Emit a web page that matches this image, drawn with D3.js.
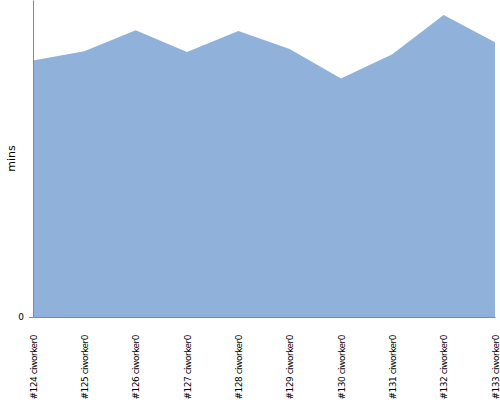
<!DOCTYPE html>
<html>
<head>
<meta charset="utf-8">
<script src="https://cdn.jsdelivr.net/npm/d3@7"></script>
<style>
  body { margin: 0; background: #fff; }
  .eje text { font-family: "DejaVu Sans", sans-serif; font-size: 9px; fill: #000; }
  .eje path, .eje line { stroke: #888; }
</style>
</head>
<body>
<script>
// builds y sus duraciones (minutos)
var builds = ["#124 ciworker0", "#125 ciworker0", "#126 ciworker0", "#127 ciworker0", "#128 ciworker0",
              "#129 ciworker0", "#130 ciworker0", "#131 ciworker0", "#132 ciworker0", "#133 ciworker0"];
var minutos = [17.0, 17.6, 19.0, 17.55, 18.95, 17.75, 15.8, 17.4, 20.0, 18.2];
var ticksY = [0];

var w = 500, h = 400;
var margin = { top: 0, bottom: 83, left: 33, right: 5 };

var svg = d3.select("body").append("svg")
            .attr("width", w).attr("height", h);

var x = d3.scalePoint()
          .domain(builds)
          .range([margin.left, w - margin.right]);

var y = d3.scaleLinear()
          .domain([0, d3.max(minutos) * 1.05])
          .range([h - margin.bottom, margin.top]);

var area = d3.area()
             .x(function (d, i) { return x(builds[i]); })
             .y0(y(0))
             .y1(function (d) { return y(d); });

svg.append("path")
   .datum(minutos)
   .attr("d", area)
   .attr("fill", "#8fb1da");

// eje Y
svg.append("g")
   .attr("class", "eje")
   .attr("transform", "translate(" + margin.left + ",0)")
   .call(d3.axisLeft(y).tickValues(ticksY).tickSize(4).tickSizeOuter(0))
   .selectAll("text").attr("dx", "-2");

svg.append("text")
   .attr("transform", "translate(11," + (h - margin.bottom) / 2 + ") rotate(-90)")
   .attr("text-anchor", "middle")
   .attr("dy", "0.35em")
   .style("font-family", "DejaVu Sans, sans-serif")
   .style("font-size", "11px")
   .text("mins");

// eje X
var ejeX = svg.append("g")
   .attr("class", "eje")
   .attr("transform", "translate(0," + y(0) + ")")
   .call(d3.axisBottom(x).tickSize(0).tickSizeOuter(0));

ejeX.selectAll("text")
    .attr("text-anchor", "end")
    .attr("transform", "rotate(-90)")
    .attr("x", -18)
    .attr("y", 0)
    .attr("dy", "0.35em")
    .style("letter-spacing", "-0.5px");
</script>
</body>
</html>
